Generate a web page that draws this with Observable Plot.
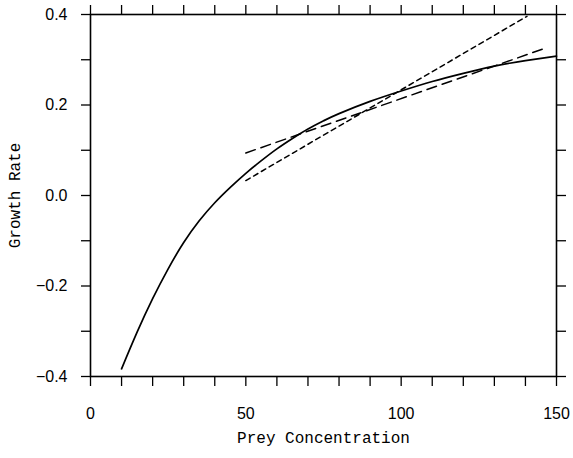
<!DOCTYPE html>
<html>
<head>
<meta charset="utf-8">
<script src="https://cdn.jsdelivr.net/npm/d3@7"></script>
<script src="https://cdn.jsdelivr.net/npm/@observablehq/plot@0.6"></script>
<style>
  html, body { margin: 0; padding: 0; background: #fff; }
  #chart svg { display: block; }
</style>
</head>
<body>
<div id="chart"></div>
<script>
// Solid curve: growth rate vs prey concentration
const preyX   = [10, 15, 20, 25, 30, 35, 40, 45, 50, 55, 60, 65, 70, 75, 80, 90, 100, 110, 120, 130, 140, 150];
const growthY = [-0.383, -0.302, -0.228, -0.162, -0.104, -0.056, -0.016, 0.018, 0.049, 0.077, 0.103, 0.126, 0.147, 0.165, 0.181, 0.208, 0.231, 0.252, 0.270, 0.286, 0.298, 0.308];

// Short-dashed straight line
const shortDashX = [50, 140.5];
const shortDashY = [0.033, 0.396];

// Long-dashed straight line
const longDashX = [50, 147];
const longDashY = [0.094, 0.327];

// Ticks
const xTicks = [0, 10, 20, 30, 40, 50, 60, 70, 80, 90, 100, 110, 120, 130, 140, 150];
const xLabeled = [0, 50, 100, 150];
const yTicks = [-0.4, -0.3, -0.2, -0.1, 0.0, 0.1, 0.2, 0.3, 0.4];
const yLabeled = [-0.4, -0.2, 0.0, 0.2, 0.4];

const xLabel = "Prey Concentration";
const yLabel = "Growth Rate";

const curve = preyX.map((x, i) => ({x, y: growthY[i]}));
const shortLine = shortDashX.map((x, i) => ({x, y: shortDashY[i]}));
const longLine = longDashX.map((x, i) => ({x, y: longDashY[i]}));

const fmtX = d => xLabeled.includes(d) ? String(d) : "";
const fmtY = d => yLabeled.some(v => Math.abs(v - d) < 1e-9) ? d3.format(".1f")(d) : "";

const tickFont = "'Liberation Sans', Arial, Helvetica, sans-serif";
const labelFont = "'Liberation Mono', 'Courier New', monospace";

const chart = Plot.plot({
  width: 573,
  height: 458,
  marginLeft: 90,
  marginRight: 17,
  marginTop: 14,
  marginBottom: 82,
  style: {background: "#fff", color: "#000", fontFamily: tickFont, fontSize: "16px"},
  x: {domain: [0, 150]},
  y: {domain: [-0.4, 0.4]},
  marks: [
    Plot.axisX({anchor: "bottom", ticks: xTicks, tickFormat: fmtX, tickSize: 10, tickPadding: 21, label: null, fontSize: 16, strokeWidth: 1.3}),
    Plot.axisX({anchor: "top", ticks: xTicks, tickFormat: () => "", tickSize: 10, label: null, strokeWidth: 1.3}),
    Plot.axisY({anchor: "left", ticks: yTicks, tickFormat: fmtY, tickSize: 9, tickPadding: 14, label: null, fontSize: 16, strokeWidth: 1.3}),
    Plot.axisY({anchor: "right", ticks: yTicks, tickFormat: () => "", tickSize: 9, label: null, strokeWidth: 1.3}),
    Plot.frame({stroke: "#000", strokeWidth: 1.6}),
    Plot.line(curve, {x: "x", y: "y", curve: "natural", stroke: "#000", strokeWidth: 1.7}),
    Plot.line(shortLine, {x: "x", y: "y", stroke: "#000", strokeWidth: 1.5, strokeDasharray: "5,4"}),
    Plot.line(longLine, {x: "x", y: "y", stroke: "#000", strokeWidth: 1.5, strokeDasharray: "10,6"}),
    Plot.text([xLabel], {frameAnchor: "bottom", dy: 66, text: d => d, fontFamily: labelFont, fontSize: 16, fill: "#000"}),
    Plot.text([yLabel], {frameAnchor: "left", dx: -76, rotate: -90, textAnchor: "middle", text: d => d, fontFamily: labelFont, fontSize: 16, fill: "#000"})
  ]
});
document.getElementById("chart").appendChild(chart);
</script>
</body>
</html>
